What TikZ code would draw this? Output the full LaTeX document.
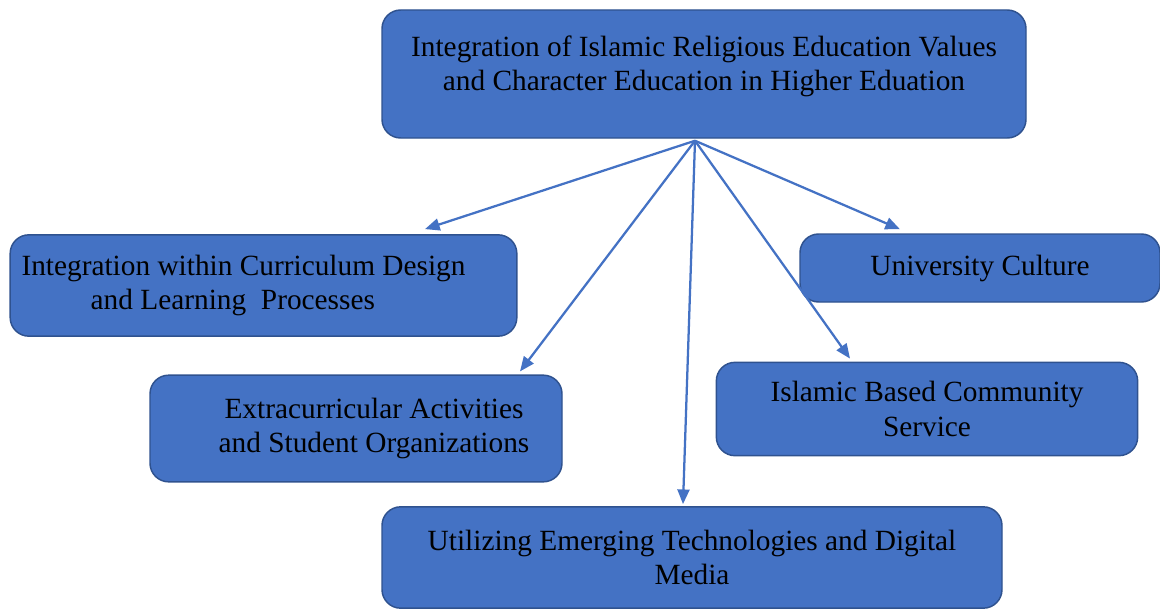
\documentclass[tikz,border=0pt]{standalone}
\usepackage{fontspec}
\setmainfont{Liberation Serif}
\usepackage{xcolor}
\usetikzlibrary{arrows.meta, positioning, calc}

\definecolor{boxfill}{HTML}{4472C4}
\definecolor{boxline}{HTML}{2F528F}

\begin{document}
\begin{tikzpicture}[
    x=0.75pt, y=-0.75pt,
    box/.style={rectangle, draw=boxline, fill=boxfill, line width=1.1pt,
                rounded corners=14pt, align=center, inner sep=0pt,
                font=\fontsize{22}{26}\selectfont},
    arr/.style={-{Triangle[length=11pt, width=9pt]}, draw=boxfill, line width=1.7pt},
  ]
  \useasboundingbox (0,0) rectangle (1160,610);

  % central topic
  \node[box, minimum width=483pt, minimum height=96pt, text depth=16pt] (top) at (704,74)
    {Integration of Islamic Religious Education Values\\and Character Education in Higher Eduation};

  % branches
  \node[box, minimum width=380pt, minimum height=76pt] (curr) at (263.5,285.5)
    {Integration within Curriculum Design\hspace*{30pt}\\and Learning \ Processes\hspace*{46pt}};
  \node[box, minimum width=309pt, minimum height=80pt] (extra) at (356,428.5)
    {\hspace*{27pt}Extracurricular Activities\\\hspace*{27pt}and Student Organizations};
  \node[box, minimum width=270pt, minimum height=51pt] (culture) at (980,268)
    {University Culture};
  \node[box, minimum width=316pt, minimum height=70pt] (comm) at (927,409)
    {Islamic Based Community\\Service};
  \node[box, minimum width=465pt, minimum height=76pt] (media) at (692,557.5)
    {Utilizing Emerging Technologies and Digital\\Media};

  % arrows from the hub
  \coordinate (hub) at ($(top.south)+(-9,2)$);
  \draw[arr] (hub) -- ($(curr.north)+(161.5,-5)$);
  \draw[arr] (hub) -- ($(extra.north)+(164,-3)$);
  \draw[arr] (hub) -- ($(media.north)+(-9,-2)$);
  \draw[arr] (hub) -- ($(comm.north)+(-77,-3)$);
  \draw[arr] (hub) -- ($(culture.north)+(-80,-4)$);
\end{tikzpicture}
\end{document}
